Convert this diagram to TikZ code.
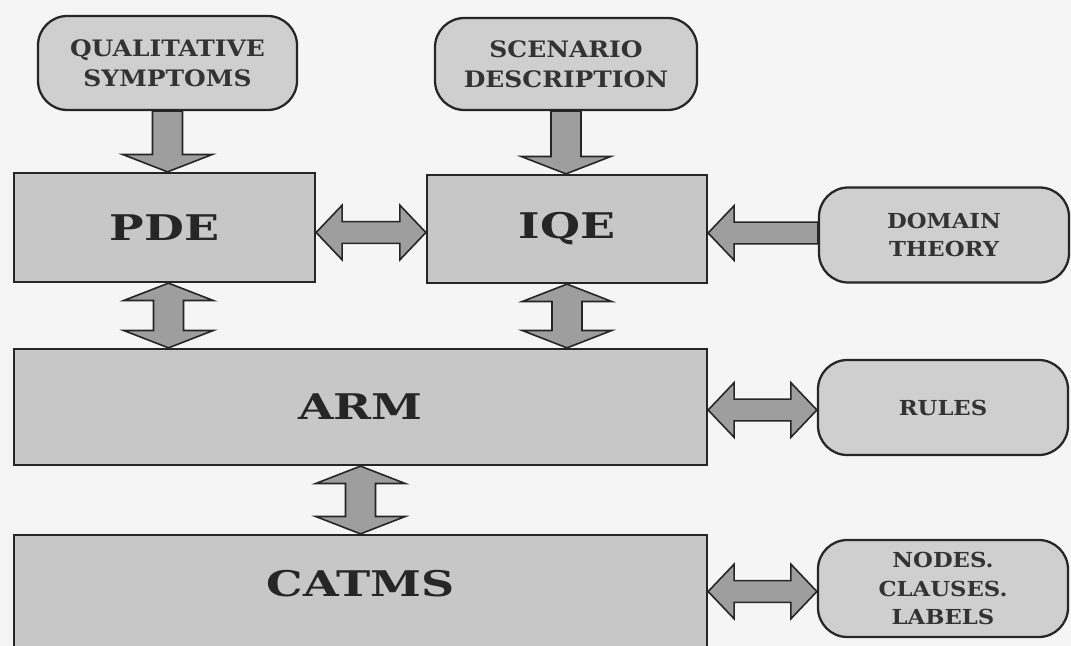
\documentclass[tikz,border=0pt]{standalone}
\usepackage{fontspec}
\setmainfont{DejaVu Serif}
\newfontfamily\srcfont[FakeStretch=1.1]{DejaVu Serif Bold}
\newfontfamily\modfont[FakeStretch=1.3]{DejaVu Serif Bold}
\usetikzlibrary{calc}

% fat block arrows: half shaft width, half head width, head length
\newcommand\vdims{\def\fsw{11.25pt}\def\fhw{33.5pt}\def\fhl{13pt}}
\newcommand\hdims{\def\fsw{8.2pt}\def\fhw{20.5pt}\def\fhl{19.5pt}}

% single head at fb
\newcommand\fatone{%
  \coordinate (fh) at ($(fb)!\fhl!(fa)$);
  \draw[fat] ($(fa)!\fsw!90:(fb)$) -- ($(fh)!\fsw!90:(fb)$) -- ($(fh)!\fhw!90:(fb)$)
    -- (fb) -- ($(fh)!\fhw!-90:(fb)$) -- ($(fh)!\fsw!-90:(fb)$)
    -- ($(fa)!\fsw!-90:(fb)$) -- cycle;}
% heads at both fa and fb
\newcommand\fattwo{%
  \coordinate (fh) at ($(fb)!\fhl!(fa)$);
  \coordinate (fg) at ($(fa)!\fhl!(fb)$);
  \draw[fat] (fa) -- ($(fg)!\fhw!90:(fb)$) -- ($(fg)!\fsw!90:(fb)$)
    -- ($(fh)!\fsw!90:(fb)$) -- ($(fh)!\fhw!90:(fb)$) -- (fb)
    -- ($(fh)!\fhw!-90:(fb)$) -- ($(fh)!\fsw!-90:(fb)$)
    -- ($(fg)!\fsw!-90:(fb)$) -- ($(fg)!\fhw!-90:(fb)$) -- cycle;}
% vertical / horizontal connectors between named nodes
\newcommand\vone[2]{\vdims\coordinate (fa) at (#1); \coordinate (fb) at (fa |- #2); \fatone}
\newcommand\vtwo[2]{\vdims\coordinate (fa) at (#1); \coordinate (fb) at (fa |- #2); \fattwo}
\newcommand\hone[2]{\hdims\coordinate (fa) at (#1); \coordinate (fb) at (fa -| #2); \fatone}
\newcommand\htwo[2]{\hdims\coordinate (fa) at (#1); \coordinate (fb) at (fa -| #2); \fattwo}

\tikzset{
  module/.style={draw=black!85, line width=1.7pt, fill=black!22, rectangle,
    inner sep=0pt, text=black!85, font=\modfont\fontsize{26.5}{30}\selectfont},
  source/.style={draw=black!85, line width=1.7pt, fill=black!19, rectangle,
    rounded corners=22pt, inner sep=0pt, align=center, text=black!80},
  toptext/.style={font=\srcfont\fontsize{17}{22.5}\selectfont},
  sidetext/.style={font=\srcfont\fontsize{15.5}{21.5}\selectfont},
  fat/.style={draw=black!85, line width=1.2pt, fill=black!38, line join=miter},
}

\begin{document}
\begin{tikzpicture}[x=0.75pt, y=-0.75pt]
\useasboundingbox (0,0) rectangle (1071,646);
\clip (0,0) rectangle (1071,646);
\fill[black!4] (0,0) rectangle (1071,646);

% inputs
\node[source, toptext, minimum width=194.25pt, minimum height=70.5pt] (qs) at (167.5,63)
  {QUALITATIVE\\SYMPTOMS};
\node[source, toptext, minimum width=196.5pt, minimum height=69pt] (sd) at (566,64)
  {SCENARIO\\DESCRIPTION};
\node[source, sidetext, minimum width=187.5pt, minimum height=71.25pt] (dt) at (944,235)
  {DOMAIN\\THEORY};
\node[source, sidetext, minimum width=187.5pt, minimum height=71.25pt] (rules) at (943,407.5)
  {RULES};
\node[source, sidetext, minimum width=187.5pt, minimum height=72.75pt] (ncl) at (943,588.5)
  {NODES.\\CLAUSES.\\LABELS};

% modules
\node[module, minimum width=225.75pt, minimum height=81.75pt] (pde) at (164.5,227.5) {PDE};
\node[module, minimum width=210pt, minimum height=81pt] (iqe) at (567,229) {IQE};
\node[module, minimum width=519.75pt, minimum height=87pt] (arm) at (360.5,407) {ARM};
\node[module, minimum width=519.75pt, minimum height=84.75pt, text depth=12pt] (catms)
  at (360.5,591.5) {CATMS};

% connectors
\vone{qs.south}{pde.north}
\vone{sd.south}{iqe.north}
\vtwo{$(pde.south)+(4,0)$}{arm.north}
\vtwo{iqe.south}{arm.north}
\vtwo{arm.south}{catms.north}
\htwo{$(pde.east)+(0,5)$}{iqe.west}
\hone{$(dt.west)+(0,-2)$}{iqe.east}
\htwo{$(arm.east)+(0,3)$}{rules.west}
\htwo{catms.east}{ncl.west}
\end{tikzpicture}
\end{document}
